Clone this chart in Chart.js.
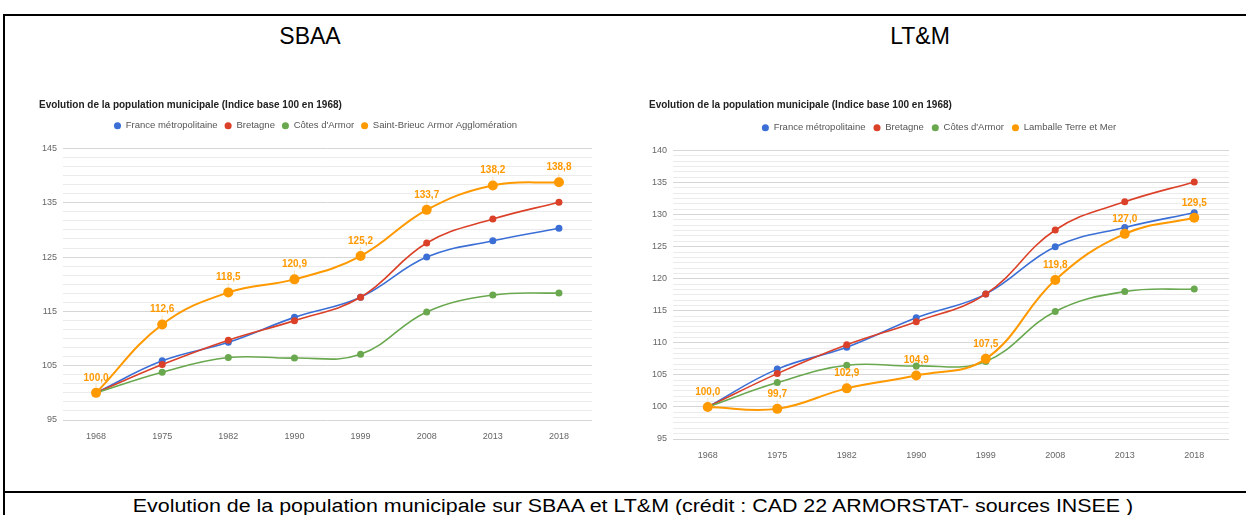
<!DOCTYPE html>
<html lang="fr">
<head>
<meta charset="utf-8">
<title>Evolution de la population municipale</title>
<script src="https://cdn.jsdelivr.net/npm/chart.js@4.4.1/dist/chart.umd.min.js"></script>
<style>
    body {
        margin: 0;
        width: 1246px;
        height: 515px;
        overflow: hidden;
        background: #fff;
        position: relative;
        font-family: 'Liberation Sans', Arial, sans-serif;
    }
    .rule { position: absolute; background: #000; }
    .heading {
        position: absolute;
        top: 23px;
        font-size: 23px;
        color: #000;
        white-space: nowrap;
        transform: translateX(-50%);
    }
    #caption {
        position: absolute;
        top: 496px;
        left: 633px;
        font-size: 18px;
        white-space: nowrap;
        transform-origin: center top;
    }
    .chartbox { position: absolute; }
</style>
</head>
<body>

<!-- table borders -->
<div class="rule" style="left:3px; top:14px; width:1243px; height:2px;"></div>
<div class="rule" style="left:3px; top:14px; width:2px; height:501px;"></div>
<div class="rule" style="left:3px; top:491px; width:1243px; height:2px;"></div>

<div class="heading" style="left:310px;">SBAA</div>
<div class="heading" style="left:920px;">LT&amp;M</div>

<div class="chartbox" style="left:36px; top:90px; width:562px; height:355px;">
    <canvas id="sbaaChart"></canvas>
</div>
<div class="chartbox" style="left:646px; top:90px; width:590px; height:375px;">
    <canvas id="ltmChart"></canvas>
</div>

<div id="caption">Evolution de la population municipale sur SBAA et LT&amp;M (crédit : CAD 22 ARMORSTAT- sources INSEE )</div>

<script>
// ---- data (indice base 100 en 1968) ----
const years = ["1968", "1975", "1982", "1990", "1999", "2008", "2013", "2018"];
const france = [100.0, 105.9, 109.3, 113.9, 117.6, 125.0, 128.0, 130.3];
const bretagne = [100.0, 105.2, 109.7, 113.3, 117.6, 127.6, 132.0, 135.1];
const cotesArmor = [100.0, 103.8, 106.5, 106.4, 107.1, 114.9, 118.0, 118.4];
const sbaa = [100.0, 112.6, 118.5, 120.9, 125.2, 133.7, 138.2, 138.8];
const ltm = [100.0, 99.7, 102.9, 104.9, 107.5, 119.8, 127.0, 129.5];

const seriesNames = ["France métropolitaine", "Bretagne", "Côtes d'Armor"];
const sbaaName = "Saint-Brieuc Armor Agglomération";
const ltmName = "Lamballe Terre et Mer";
const chartTitle = "Evolution de la population municipale (Indice base 100 en 1968)";

// y axis: labelled every 10 (SBAA) / 5 (LT&M), 5 minor lines in between
const sbaaAxis = { min: 95, max: 145, major: 10 };
const ltmAxis = { min: 95, max: 140, major: 5 };

const BLUE = '#3b6fd6';
const RED = '#db4128';
const GREEN = '#6aa84f';
const ORANGE = '#ff9900';

Chart.defaults.font.family = "'Liberation Sans', Arial, sans-serif";

// orange value labels above the local series
const valueLabels = {
    id: 'valueLabels',
    afterDatasetsDraw(chart) {
        const ctx = chart.ctx;
        chart.data.datasets.forEach((ds, i) => {
            if (!ds.showValues) return;
            const meta = chart.getDatasetMeta(i);
            meta.data.forEach((pt, j) => {
                ctx.save();
                ctx.strokeStyle = 'rgba(255,153,0,0.25)';
                ctx.lineWidth = 1;
                ctx.beginPath();
                ctx.moveTo(pt.x, pt.y - 9);
                ctx.lineTo(pt.x, pt.y - 5);
                ctx.stroke();
                ctx.fillStyle = ORANGE;
                ctx.font = "bold 10px 'Liberation Sans', Arial, sans-serif";
                ctx.textAlign = 'center';
                ctx.textBaseline = 'middle';
                ctx.fillText(ds.data[j].toFixed(1).replace('.', ','), pt.x, pt.y - 15);
                ctx.restore();
            });
        });
    }
};

// extra space between the legend and the plot
const legendGap = {
    id: 'legendGap',
    beforeInit(chart) {
        const fit = chart.legend.fit;
        chart.legend.fit = function () {
            fit.bind(chart.legend)();
            this.height += 8;
        };
    }
};

function makeDataset(label, data, color, big, order) {
    return {
        label: label,
        data: data,
        borderColor: color,
        backgroundColor: color,
        pointBackgroundColor: color,
        pointBorderWidth: 0,
        pointRadius: big ? 5 : 3.5,
        borderWidth: big ? 2 : 1.6,
        tension: 0.4,
        order: order, // later series drawn on top, like the original
        showValues: big,
    };
}

function buildChart(canvasId, localName, localData, axis, pad) {
    const step = axis.major / 6;
    const nTicks = Math.round((axis.max - axis.min) / step);
    const config = {
        type: 'line',
        data: {
            labels: years,
            datasets: [
                makeDataset(seriesNames[0], france, BLUE, false, 3),
                makeDataset(seriesNames[1], bretagne, RED, false, 2),
                makeDataset(seriesNames[2], cotesArmor, GREEN, false, 1),
                makeDataset(localName, localData, ORANGE, true, 0),
            ]
        },
        options: {
            responsive: true,
            maintainAspectRatio: false,
            animation: false,
            layout: { padding: { left: 3, right: pad.right, top: 0, bottom: pad.bottom } },
            plugins: {
                title: {
                    display: true,
                    text: chartTitle,
                    align: 'start',
                    color: '#222',
                    font: { size: 10, weight: 'bold' },
                    padding: pad.title,
                },
                legend: {
                    display: true,
                    labels: {
                        usePointStyle: true,
                        pointStyle: 'circle',
                        boxWidth: 7,
                        boxHeight: 5,
                        color: '#555',
                        font: { size: 9.5 },
                        padding: pad.legend,
                        sort: (a, b) => a.datasetIndex - b.datasetIndex,
                    },
                },
                tooltip: { enabled: false },
            },
            scales: {
                x: {
                    offset: true,
                    grid: { display: false },
                    border: { display: false },
                    ticks: { color: '#666', font: { size: 9 }, padding: 3, maxRotation: 0 },
                    afterFit: (scale) => { scale.height = 20; },
                },
                y: {
                    min: axis.min,
                    max: axis.max,
                    border: { display: false },
                    grid: {
                        drawTicks: false,
                        color: (c) => (c.index % 6 === 0 ? '#d6d6d6' : '#ebebeb'),
                    },
                    ticks: {
                        autoSkip: false,
                        color: '#666',
                        font: { size: 9 },
                        padding: 6,
                        callback: (value, index) => (index % 6 === 0 ? String(Math.round(value)) : ''),
                    },
                    afterBuildTicks: (scale) => {
                        const t = [];
                        for (let k = 0; k <= nTicks; k++) t.push({ value: axis.min + k * step });
                        scale.ticks = t;
                    },
                    afterFit: (scale) => { scale.width = 24; },
                },
            },
        },
        plugins: [valueLabels, legendGap],
    };
    const ctx = document.getElementById(canvasId).getContext('2d');
    return new Chart(ctx, config);
}

const sbaaChart = buildChart('sbaaChart', sbaaName, sbaa, sbaaAxis,
    { right: 6, bottom: 5, title: { top: 9, bottom: 3 }, legend: 7 });
const ltmChart = buildChart('ltmChart', ltmName, ltm, ltmAxis,
    { right: 7, bottom: 6, title: { top: 9, bottom: 4 }, legend: 8 });

// stretch the caption to the width it has in the document
const cap = document.getElementById('caption');
const w = cap.offsetWidth;
cap.style.transform = 'translateX(-50%) scaleX(' + (1000 / w) + ')';
</script>
</body>
</html>
